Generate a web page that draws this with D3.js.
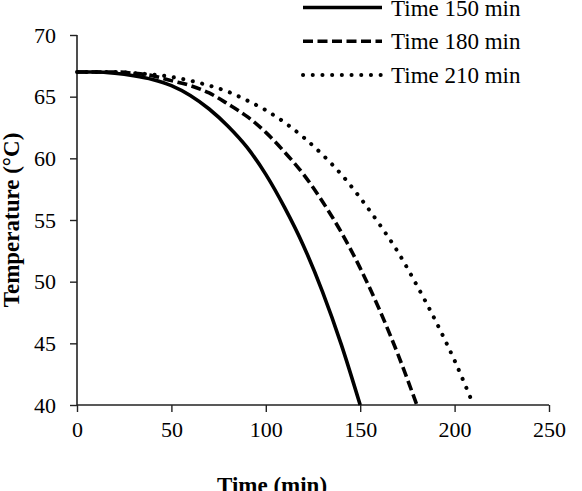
<!DOCTYPE html>
<html>
<head>
<meta charset="utf-8">
<script src="https://cdn.jsdelivr.net/npm/d3@7"></script>
<style>
  body { margin: 0; background: #fff; }
  svg { display: block; }
  text { font-family: "Liberation Serif", "Times New Roman", serif; fill: #000; }
</style>
</head>
<body>
<div id="chart"></div>
<script>
// Data (temperature in °C vs time in min)
const times150 = [0, 10, 20, 30, 40, 50, 60, 70, 80, 90, 100, 110, 120, 130, 140, 150];
const temps150 = [67.0, 67.0, 66.9, 66.7, 66.4, 65.9, 65.1, 64.0, 62.6, 60.9, 58.7, 56.0, 52.9, 49.2, 44.9, 40.0];

const times180 = [0, 10, 20, 30, 40, 50, 60, 70, 80, 90, 100, 110, 120, 130, 140, 150, 160, 170, 180];
const temps180 = [67.0, 67.0, 67.0, 66.9, 66.7, 66.3, 65.9, 65.3, 64.4, 63.4, 62.1, 60.5, 58.7, 56.5, 54.0, 51.1, 47.8, 44.1, 40.0];

const times210 = [0, 10, 20, 30, 40, 50, 60, 70, 80, 90, 100, 110, 120, 130, 140, 150, 160, 170, 180, 190, 200, 210];
const temps210 = [67.0, 67.0, 67.0, 66.9, 66.8, 66.6, 66.3, 65.9, 65.4, 64.7, 63.9, 62.9, 61.7, 60.3, 58.7, 56.8, 54.7, 52.4, 49.7, 46.8, 43.6, 40.0];

const seriesNames = ["Time 150 min", "Time 180 min", "Time 210 min"];
const xTicks = [0, 50, 100, 150, 200, 250];
const yTicks = [40, 45, 50, 55, 60, 65, 70];

const width = 582, height = 491;
const plot = {left: 77, right: 549, top: 35, bottom: 405};

const svg = d3.select("#chart").append("svg")
  .attr("width", width)
  .attr("height", height);

const x = d3.scaleLinear().domain([0, 250]).range([plot.left, plot.right]);
const y = d3.scaleLinear().domain([40, 70]).range([plot.bottom, plot.top]);

// line styles
const styles = [
  {dash: null, cap: "butt", w: 3.6},
  {dash: "10 4.5", cap: "butt", w: 3.6},
  {dash: "0.1 9.6", cap: "round", w: 4}
];

const series = [
  times150.map((t, i) => ({t: t, v: temps150[i]})),
  times180.map((t, i) => ({t: t, v: temps180[i]})),
  times210.map((t, i) => ({t: t, v: temps210[i]}))
];

// axes
const xAxis = svg.append("g")
  .attr("transform", "translate(0," + plot.bottom + ")")
  .call(d3.axisBottom(x).tickValues(xTicks).tickSize(7).tickPadding(9));
const yAxis = svg.append("g")
  .attr("transform", "translate(" + plot.left + ",0)")
  .call(d3.axisLeft(y).tickValues(yTicks).tickSize(7).tickPadding(14));

[xAxis, yAxis].forEach(function(a) {
  a.selectAll(".domain").attr("stroke", "#222").attr("stroke-width", 1.6);
  a.selectAll(".tick line").attr("stroke", "#222").attr("stroke-width", 1.4);
  a.selectAll("text")
    .style("font-family", "'Liberation Serif', 'Times New Roman', serif")
    .style("font-size", "22px")
    .attr("fill", "#111");
});
// remove outer tick stubs of the domain path
xAxis.select(".domain").attr("d", "M" + plot.left + ",0H" + plot.right);
yAxis.select(".domain").attr("d", "M0," + plot.bottom + "V" + plot.top);

// lines
const line = d3.line()
  .x(d => x(d.t))
  .y(d => y(d.v))
  .curve(d3.curveMonotoneX);

svg.append("g")
  .selectAll("path")
  .data(series)
  .enter()
  .append("path")
  .attr("d", line)
  .attr("fill", "none")
  .attr("stroke", "#000")
  .attr("stroke-width", (d, i) => styles[i].w)
  .attr("stroke-dasharray", (d, i) => styles[i].dash)
  .attr("stroke-linecap", (d, i) => styles[i].cap);

// axis titles
svg.append("text")
  .attr("x", 272)
  .attr("y", 493)
  .attr("text-anchor", "middle")
  .style("font-size", "23px")
  .style("font-weight", "bold")
  .text("Time (min)");

svg.append("text")
  .attr("transform", "translate(19," + ((plot.top + plot.bottom) / 2) + ") rotate(-90)")
  .attr("text-anchor", "middle")
  .style("font-size", "23px")
  .style("font-weight", "bold")
  .text("Temperature (°C)");

// legend
const legend = svg.append("g")
  .selectAll(".legend")
  .data(seriesNames)
  .enter()
  .append("g")
  .attr("class", "legend")
  .attr("transform", (d, i) => "translate(303," + (7.5 + 33.7 * i) + ")");

legend.append("line")
  .attr("x1", 0)
  .attr("x2", 79)
  .attr("stroke", "#000")
  .attr("stroke-width", (d, i) => styles[i].w)
  .attr("stroke-dasharray", (d, i) => styles[i].dash)
  .attr("stroke-linecap", (d, i) => styles[i].cap);

legend.append("text")
  .attr("x", 88)
  .attr("dy", "0.35em")
  .style("font-size", "23px")
  .attr("fill", "#111")
  .text(d => d);
</script>
</body>
</html>
